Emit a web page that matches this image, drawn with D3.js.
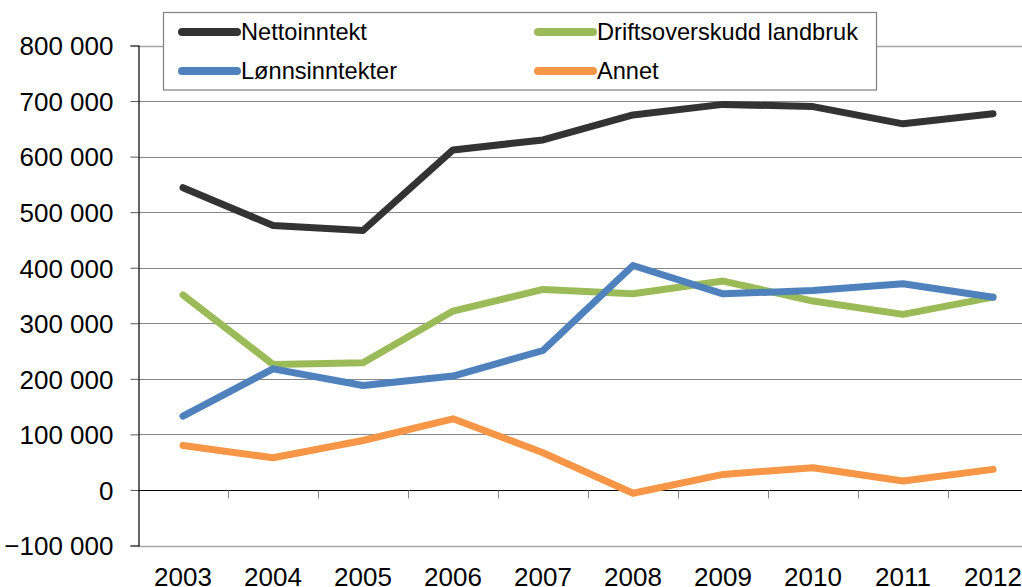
<!DOCTYPE html>
<html>
<head>
<meta charset="utf-8">
<script src="https://cdn.jsdelivr.net/npm/d3@7"></script>
<style>
  body { margin: 0; background: #fff; }
  svg { display: block; font-family: "Liberation Sans", Arial, sans-serif; }
</style>
</head>
<body>
<div id="chart"></div>
<script>
// Data
const years = ["2003", "2004", "2005", "2006", "2007", "2008", "2009", "2010", "2011", "2012"];
const nettoinntekt = [544000, 476000, 467000, 612000, 630000, 675000, 694000, 690000, 659000, 677000];
const lonnsinntekter = [133000, 218000, 188000, 205000, 251000, 404000, 353000, 359000, 371000, 347000];
const driftsoverskudd = [351000, 226000, 229000, 322000, 361000, 353000, 376000, 340000, 316000, 347000];
const annet = [80000, 58000, 89000, 128000, 67000, -6000, 28000, 40000, 16000, 37000];
const yTicks = [-100000, 0, 100000, 200000, 300000, 400000, 500000, 600000, 700000, 800000];

const series = [
  { name: "Nettoinntekt", values: nettoinntekt, color: "#333333" },
  { name: "Lønnsinntekter", values: lonnsinntekter, color: "#4F81BD" },
  { name: "Driftsoverskudd landbruk", values: driftsoverskudd, color: "#9BBB59" },
  { name: "Annet", values: annet, color: "#F79646" }
];

const width = 1022;
const height = 587;

// plot area (right side runs past the picture edge, like the original)
const plot = { left: 138, right: 1038, top: 45.5, bottom: 545.5 };

const svg = d3.select("#chart")
  .append("svg")
    .attr("width", width)
    .attr("height", height);

const x = d3.scaleBand()
  .domain(years)
  .range([plot.left, plot.right]);

const y = d3.scaleLinear()
  .domain([-100000, 800000])
  .range([plot.bottom, plot.top]);

const fmt = v => d3.format(",")(v).replace(/,/g, " ");

// gridlines
svg.append("g")
  .selectAll("line")
  .data(yTicks)
  .join("line")
    .attr("x1", plot.left)
    .attr("x2", plot.right)
    .attr("y1", d => Math.round(y(d)) + 0.5)
    .attr("y2", d => Math.round(y(d)) + 0.5)
    .attr("stroke", d => (d === 800000 || d === -100000) ? "#a6a6a6" : "#868686")
    .attr("stroke-width", d => (d === 800000 || d === -100000) ? 1.6 : 1);

// y axis
const yAxis = svg.append("g")
  .attr("transform", `translate(${plot.left + 0.5},0)`)
  .call(d3.axisLeft(y).tickValues(yTicks).tickFormat(fmt).tickSize(8).tickPadding(17));
yAxis.select(".domain").attr("stroke", "#000").attr("stroke-width", 1.2);
yAxis.selectAll(".tick line").attr("stroke", "#595959");
yAxis.selectAll(".tick text")
  .attr("fill", "#000")
  .style("font-size", "26px")
  .attr("dy", "0.36em");

// category axis crossing at zero
const zeroY = Math.round(y(0)) + 0.5;
svg.append("line")
  .attr("x1", plot.left)
  .attr("x2", plot.right)
  .attr("y1", zeroY)
  .attr("y2", zeroY)
  .attr("stroke", "#000")
  .attr("stroke-width", 1.2);

svg.append("g")
  .selectAll("line")
  .data(years.slice(1))
  .join("line")
    .attr("x1", d => Math.round(x(d)) + 0.5)
    .attr("x2", d => Math.round(x(d)) + 0.5)
    .attr("y1", zeroY)
    .attr("y2", zeroY + 8)
    .attr("stroke", "#868686");

// year labels at the bottom
svg.append("g")
  .selectAll("text")
  .data(years)
  .join("text")
    .attr("x", d => x(d) + x.bandwidth() / 2)
    .attr("y", 586)
    .attr("text-anchor", "middle")
    .style("font-size", "26px")
    .attr("fill", "#000")
    .text(d => d);

// lines
const line = d3.line()
  .x((d, i) => x(years[i]) + x.bandwidth() / 2)
  .y(d => y(d));

svg.append("g")
  .selectAll("path")
  .data(series.slice().reverse())
  .join("path")
    .attr("d", d => line(d.values))
    .attr("fill", "none")
    .attr("stroke", d => d.color)
    .attr("stroke-width", 7)
    .attr("stroke-linecap", "round")
    .attr("stroke-linejoin", "round");

// legend
const legend = svg.append("g");
legend.append("rect")
  .attr("x", 163.5)
  .attr("y", 12.5)
  .attr("width", 713)
  .attr("height", 77.5)
  .attr("fill", "#fff")
  .attr("stroke", "#7f7f7f")
  .attr("stroke-width", 1.2);

const legendPos = [
  { x: 182, y: 32 },
  { x: 182, y: 71 },
  { x: 538, y: 32 },
  { x: 538, y: 71 }
];

const item = legend.selectAll("g.item")
  .data(series)
  .join("g")
    .attr("class", "item")
    .attr("transform", (d, i) => `translate(${legendPos[i].x},${legendPos[i].y})`);

item.append("line")
  .attr("x1", 0)
  .attr("x2", 55)
  .attr("stroke", d => d.color)
  .attr("stroke-width", 8)
  .attr("stroke-linecap", "round");

item.append("text")
  .attr("x", 59)
  .attr("y", 8)
  .style("font-size", "23.6px")
  .attr("fill", "#000")
  .text(d => d.name);
</script>
</body>
</html>
